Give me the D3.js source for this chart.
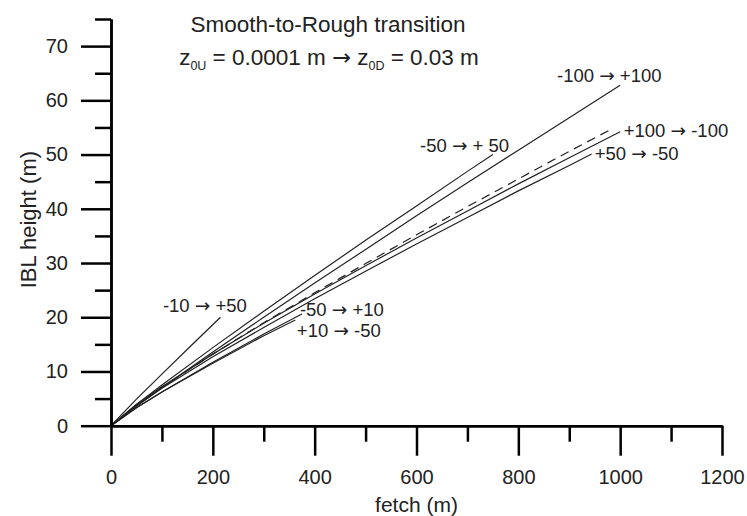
<!DOCTYPE html>
<html><head><meta charset="utf-8">
<script src="https://cdn.jsdelivr.net/npm/d3@7"></script>
<style>
body{margin:0;background:#fff;}
svg{display:block;font-family:"Liberation Sans",Arial,Helvetica,sans-serif;}
.arr{font-family:"DejaVu Sans",sans-serif;}
</style></head><body>
<svg id="chart" width="747" height="516"></svg>
<script>
// ---- data ----
const xMajorTicks = [0,200,400,600,800,1000,1200];
const xMinorTicks = [100,300,500,700,900,1100];
const yMajorTicks = [0,10,20,30,40,50,60,70];
const yMinorTicks = [5,15,25,35,45,55,65,75];

const fetchA = [0,50,100,200,300,400,500,600,700,800,900,1000];
const ibl_m100_p100 = [0,3.6,7.0,13.6,20.0,26.3,32.5,38.7,44.8,50.8,56.8,62.8];

const fetchB = [0,50,100,200,300,400,500,600,700,750];
const ibl_m50_p50 = [0,3.9,7.5,14.4,21.1,27.7,34.2,40.5,46.9,50.0];

const fetchC = [0,50,100,200,300,400,500,600,700,800,900,1000];
const ibl_p100_m100 = [0,3.9,7.2,13.2,18.9,24.3,29.5,34.6,39.6,44.6,49.4,54.2];

const fetchDash = [0,50,100,200,300,400,500,600,700,800,900,985];
const ibl_dashed = [0,3.8,7.1,13.2,19.0,24.5,29.9,35.2,40.4,45.5,50.6,54.8];

const fetchD = [0,50,100,200,300,400,500,600,700,800,900,944];
const ibl_p50_m50 = [0,3.7,6.9,12.7,18.1,23.4,28.5,33.5,38.4,43.3,48.0,50.1];

const fetchE = [0,50,100,150,215];
const ibl_m10_p50 = [0,4.9,9.5,14.1,20.0];

const fetchF = [0,50,100,200,300,375];
const ibl_m50_p10 = [0,3.3,6.2,11.7,16.9,20.6];

const fetchG = [0,50,100,200,300,362];
const ibl_p10_m50 = [0,3.3,6.2,11.5,16.6,19.5];

// label text parts: [before arrow, after arrow]
const seriesLabels = [["-100 ","+100"],["-50 ","+ 50"],["+100 ","-100"],["+50 ","-50"],["-10 ","+50"],["-50 ","+10"],["+10 ","-50"]];
// label anchors in data units (fetch, height)
const labelFetch = [876,607,1007,950,102,371,365];
const labelHeight = [63.4,50.5,53.2,49.0,21.0,20.3,16.4];

const series = [
  {x:fetchA, y:ibl_m100_p100, dash:null},
  {x:fetchB, y:ibl_m50_p50, dash:null},
  {x:fetchC, y:ibl_p100_m100, dash:null},
  {x:fetchDash, y:ibl_dashed, dash:"9,6"},
  {x:fetchD, y:ibl_p50_m50, dash:null},
  {x:fetchE, y:ibl_m10_p50, dash:null},
  {x:fetchF, y:ibl_m50_p10, dash:null},
  {x:fetchG, y:ibl_p10_m50, dash:null}
];

// ---- drawing ----
const svg = d3.select("#chart");
const x = d3.scaleLinear().domain([0,1200]).range([111,722]);
const y = d3.scaleLinear().domain([0,75]).range([425.7,19]);

const line = d3.line().x(d=>x(d[0])).y(d=>y(d[1]));
series.forEach(s=>{
  svg.append("path")
    .datum(s.x.map((v,i)=>[v,s.y[i]]))
    .attr("d",line)
    .attr("fill","none")
    .attr("stroke","#222")
    .attr("stroke-width",1.2)
    .attr("stroke-dasharray",s.dash);
});

function styleAxis(g){
  g.selectAll(".domain").attr("stroke","#000").attr("stroke-width",2.5);
  g.selectAll(".tick line").attr("stroke","#000").attr("stroke-width",2.5);
  g.selectAll(".tick text").attr("fill","#222").attr("font-size",20)
    .attr("font-family","'Liberation Sans',Arial,sans-serif");
}
const fmt = d3.format("d");

// x axis
const gxMinor = svg.append("g").attr("transform",`translate(0,${y(0)})`)
  .call(d3.axisBottom(x).tickValues(xMinorTicks).tickSize(16).tickSizeOuter(0).tickFormat(""));
styleAxis(gxMinor);
const gx = svg.append("g").attr("transform",`translate(0,${y(0)})`)
  .call(d3.axisBottom(x).tickValues(xMajorTicks).tickSize(30).tickSizeOuter(0).tickPadding(14).tickFormat(fmt));
styleAxis(gx);

// y axis
const gyMinor = svg.append("g").attr("transform",`translate(${x(0)},0)`)
  .call(d3.axisLeft(y).tickValues(yMinorTicks).tickSize(16).tickSizeOuter(0).tickFormat(""));
styleAxis(gyMinor);
const gy = svg.append("g").attr("transform",`translate(${x(0)},0)`)
  .call(d3.axisLeft(y).tickValues(yMajorTicks).tickSize(30).tickSizeOuter(0).tickPadding(13).tickFormat(fmt));
styleAxis(gy);

// axis titles
svg.append("text").attr("x",(x(0)+x(1200))/2).attr("y",512)
  .attr("text-anchor","middle").attr("font-size",21).attr("fill","#222").text("fetch (m)");
svg.append("text").attr("transform",`translate(36,${y(38)}) rotate(-90)`)
  .attr("text-anchor","middle").attr("font-size",22).attr("fill","#222").text("IBL height (m)");

// title
svg.append("text").attr("x",328).attr("y",32).attr("text-anchor","middle")
  .attr("font-size",22.5).attr("fill","#222").text("Smooth-to-Rough transition");
const t2 = svg.append("text").attr("x",329).attr("y",65).attr("text-anchor","middle")
  .attr("font-size",22.5).attr("fill","#222");
t2.append("tspan").text("z");
t2.append("tspan").attr("font-size",12.5).attr("dy",5).text("0U");
t2.append("tspan").attr("dy",-5).text(" = 0.0001 m ");
t2.append("tspan").attr("class","arr").text("\u2192");
t2.append("tspan").text(" z");
t2.append("tspan").attr("font-size",12.5).attr("dy",5).text("0D");
t2.append("tspan").attr("dy",-5).text(" = 0.03 m");

// series labels
seriesLabels.forEach((t,i)=>{
  const tx = svg.append("text").attr("x",x(labelFetch[i])).attr("y",y(labelHeight[i]))
    .attr("font-size",18.5).attr("fill","#222");
  tx.append("tspan").text(t[0]);
  tx.append("tspan").attr("class","arr").text("\u2192");
  tx.append("tspan").text(" "+t[1]);
});
</script>
</body></html>
